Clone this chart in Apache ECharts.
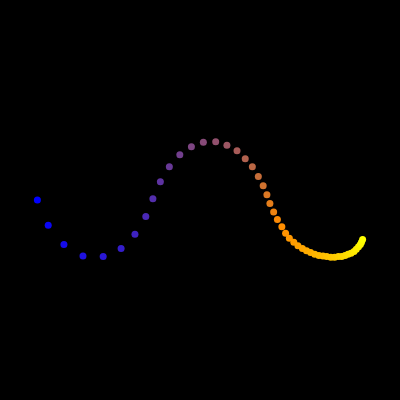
<!DOCTYPE html>
<html>
<head>
<meta charset="utf-8">
<script src="https://cdn.jsdelivr.net/npm/echarts@6/dist/echarts.min.js"></script>
<style>
  html, body { margin: 0; padding: 0; background: #000; }
  #main { width: 400px; height: 400px; }
</style>
</head>
<body>
<div id="main"></div>
<script>
// 点的横坐标
var xValues = [0, 0.29, 0.71, 1.22, 1.76, 2.24, 2.61, 2.90, 3.09, 3.29,
    3.53, 3.81, 4.12, 4.44, 4.77, 5.07, 5.34, 5.56, 5.75, 5.91,
    6.04, 6.14, 6.22, 6.32, 6.42, 6.54, 6.64, 6.74, 6.86, 6.97,
    7.09, 7.20, 7.31, 7.42, 7.53, 7.64, 7.74, 7.85, 7.95, 8.05,
    8.14, 8.23, 8.31, 8.39, 8.47, 8.53, 8.59, 8.64, 8.67, 8.70];
// 点的纵坐标
var yValues = [0, -0.44, -0.78, -0.98, -0.99, -0.85, -0.60, -0.29, 0.02, 0.32,
    0.58, 0.79, 0.93, 1.01, 1.02, 0.96, 0.86, 0.72, 0.58, 0.41,
    0.25, 0.09, -0.06, -0.21, -0.34, -0.47, -0.58, -0.67, -0.74, -0.80,
    -0.85, -0.89, -0.92, -0.95, -0.97, -0.98, -0.99, -1.00, -1.00, -0.99,
    -0.99, -0.97, -0.95, -0.93, -0.90, -0.86, -0.82, -0.78, -0.74, -0.69];

var myChart = echarts.init(document.getElementById('main'));

// 第三维是序号，用来映射颜色
var points = xValues.map(function (x, i) { return [x, yValues[i], i]; });

var option = {
    backgroundColor: '#000',
    animation: false,
    grid: { left: 0, right: 0, top: 0, bottom: 0 },
    xAxis: { type: 'value', min: -1, max: 9.7, show: false },
    yAxis: { type: 'value', min: -3.5, max: 3.5, show: false },
    visualMap: {
        show: false,
        dimension: 2,
        min: 0,
        max: points.length - 1,
        inRange: { color: ['#0000ff', '#ff8c00', '#ffff00'] }
    },
    series: [{
        type: 'scatter',
        symbolSize: 7,
        itemStyle: { opacity: 1 },
        data: points
    }]
};

myChart.setOption(option);
</script>
</body>
</html>
